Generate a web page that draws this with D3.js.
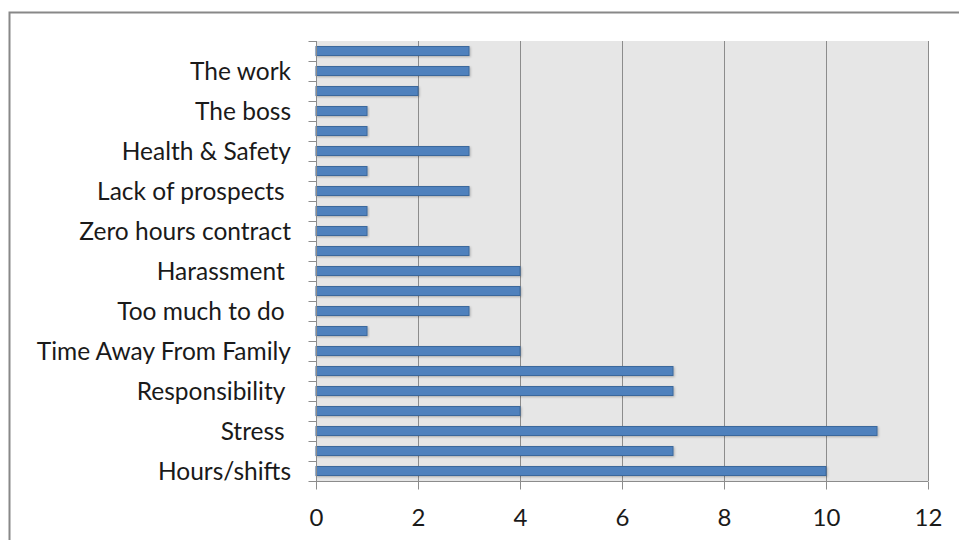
<!DOCTYPE html>
<html><head><meta charset="utf-8">
<script src="https://cdn.jsdelivr.net/npm/d3@7"></script>
<style>
html,body{margin:0;padding:0;background:#fff;}
text{font-family:Lato,"Open Sans",sans-serif;fill:#1a1a1a;white-space:pre;}
</style></head>
<body><svg id="c" width="959" height="540"></svg>
<script>
// categories from bottom to top; unlabeled rows are ""
const categories = ["Hours/shifts","","Stress ","","Responsibility ","","Time Away From Family","","Too much to do ","","Harassment ","","Zero hours contract","","Lack of prospects ","","Health & Safety","","The boss","","The work",""];
const values = [10,7,11,4,7,7,4,1,3,4,4,3,1,1,3,1,3,1,1,2,3,3];
const xTicks = [0,2,4,6,8,10,12];

const svg = d3.select("#c");
svg.append("rect").attr("x",9.5).attr("y",12.5).attr("width",960).attr("height",540)
  .attr("fill","#fff").attr("stroke","#888").attr("stroke-width",2);

const L=316,R=928,T=41,B=481;
const x = d3.scaleLinear().domain([0,12]).range([L,R]);
const idx = d3.range(categories.length);
const y = d3.scaleBand().domain(idx).range([B,T]).paddingInner(0.55).paddingOuter(0.275);
const yb = d3.scaleLinear().domain([0,categories.length]).range([B,T]);

svg.append("rect").attr("x",L).attr("y",T).attr("width",R-L).attr("height",B-T).attr("fill","#e6e6e6");

// gridlines
svg.append("g").selectAll("line").data(xTicks.slice(1)).join("line")
  .attr("x1",d=>x(d)+0.5).attr("x2",d=>x(d)+0.5).attr("y1",T).attr("y2",B)
  .attr("stroke","#8c8c8c").attr("stroke-width",1);

// bars
const defs = svg.append("defs");
const f = defs.append("filter").attr("id","sh").attr("x","-5%").attr("y","-50%").attr("width","110%").attr("height","200%");
f.append("feDropShadow").attr("dx",1).attr("dy",1).attr("stdDeviation",0.8).attr("flood-color","#000").attr("flood-opacity",0.25);
svg.append("g").selectAll("rect").data(idx).join("rect")
  .attr("x",x(0)).attr("y",i=>y(i)).attr("width",i=>x(values[i])-x(0)).attr("height",y.bandwidth())
  .attr("fill","#4f81bd").attr("stroke","#3b679c").attr("stroke-width",1).attr("filter","url(#sh)");

// y axis
const ya = svg.append("g").attr("transform",`translate(${L+0.5},0)`)
  .call(d3.axisLeft(yb).tickValues(d3.range(categories.length+1)).tickSize(8).tickFormat(""));
ya.selectAll("path,line").attr("stroke","#8c8c8c");
ya.select(".domain").attr("d",`M0,${T}V${B}`);

// x axis
const xa = svg.append("g").attr("transform",`translate(0,${B+0.5})`)
  .call(d3.axisBottom(x).tickValues(xTicks).tickSize(8).tickFormat(d3.format("d")));
xa.selectAll("path,line").attr("stroke","#8c8c8c");
xa.select(".domain").attr("d",`M${L},0H${R}`);
xa.selectAll("text").attr("font-size",24).attr("y",27).attr("dy","0.71em").style("font-family","Lato,sans-serif").attr("fill","#1a1a1a");

// category labels
svg.append("g").selectAll("text").data(idx.filter(i=>categories[i]!=="")).join("text")
  .attr("x",291).attr("y",i=>y(i)+y.bandwidth()/2).attr("dy","0.36em")
  .attr("text-anchor","end").attr("font-size",24.5).text(i=>categories[i]);
</script></body></html>
